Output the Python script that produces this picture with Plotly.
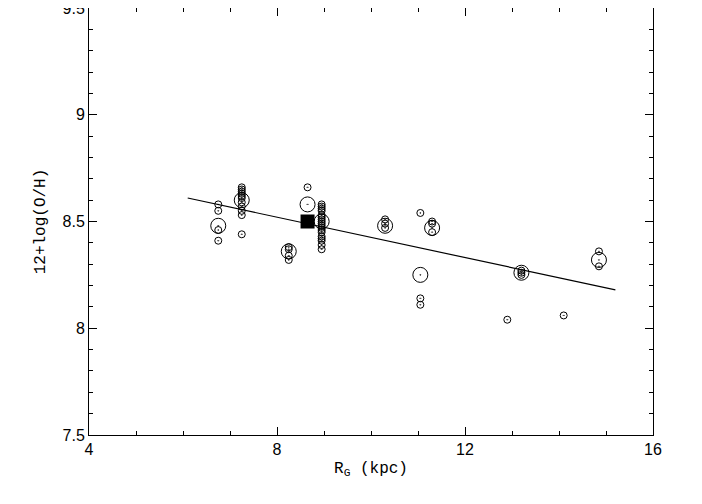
import plotly.graph_objects as go

# small circles
small_x = [6.75, 6.75, 6.75, 6.75,
           7.25, 7.25, 7.25, 7.25, 7.25, 7.25, 7.25, 7.25, 7.25, 7.25, 7.25,
           8.25, 8.25, 8.25, 8.25,
           8.65,
           8.95, 8.95, 8.95, 8.95, 8.95, 8.95, 8.95, 8.95, 8.95, 8.95, 8.95, 8.95, 8.95, 8.95, 8.95, 8.95, 8.95, 8.95,
           10.3, 10.3, 10.3,
           11.05, 11.05, 11.05,
           11.3, 11.3, 11.3,
           12.9, 13.2, 13.2, 13.2, 14.1, 14.85, 14.85]
small_y = [8.58, 8.55, 8.46, 8.41,
           8.66, 8.65, 8.64, 8.63, 8.62, 8.61, 8.59, 8.57, 8.55, 8.53, 8.44,
           8.38, 8.37, 8.34, 8.32,
           8.66,
           8.58, 8.57, 8.56, 8.55, 8.53, 8.52, 8.51, 8.50, 8.49, 8.48, 8.47, 8.46, 8.45, 8.43, 8.42, 8.41, 8.39, 8.37,
           8.51, 8.49, 8.47,
           8.54, 8.14, 8.11,
           8.50, 8.49, 8.45,
           8.04, 8.27, 8.26, 8.25, 8.06, 8.36, 8.29]

# big circles
big_x = [6.75, 7.25, 8.25, 8.65, 8.95, 10.3, 11.05, 11.3, 13.2, 14.85]
big_y = [8.48, 8.60, 8.36, 8.58, 8.50, 8.48, 8.25, 8.47, 8.26, 8.32]

sun_x = [8.65]
sun_y = [8.5]

fit_x = [6.1, 15.2]
fit_y = [8.61, 8.18]

fig = go.Figure()
fig.add_trace(go.Scatter(x=fit_x, y=fit_y, mode="lines",
                         line=dict(color="black", width=1.2)))
fig.add_trace(go.Scatter(x=small_x, y=small_y, mode="markers",
                         marker=dict(symbol="circle-open-dot", size=7, color="black",
                                     line=dict(width=1))))
fig.add_trace(go.Scatter(x=big_x, y=big_y, mode="markers",
                         marker=dict(symbol="circle-open-dot", size=15, color="black",
                                     line=dict(width=1))))
fig.add_trace(go.Scatter(x=sun_x, y=sun_y, mode="markers",
                         marker=dict(symbol="square", size=14, color="black")))

axis = dict(showgrid=False, zeroline=False, mirror="ticks", showline=True,
            linecolor="black", linewidth=1, ticks="inside", ticklen=8,
            tickcolor="black", ticklabeloverflow="allow",
            tickfont=dict(family="Liberation Sans", size=16, color="black"),
            minor=dict(ticks="inside", ticklen=4, tickcolor="black"))
fig.update_xaxes(range=[4, 16], tickvals=[4, 8, 12, 16], minor_dtick=1,
                 title=dict(text="R<sub>G</sub> (kpc)",
                            font=dict(family="Liberation Mono", size=16, color="black"),
                            standoff=4),
                 **axis)
fig.update_yaxes(range=[7.5, 9.5], tickvals=[7.5, 8, 8.5, 9, 9.5],
                 ticktext=["7.5", "8", "8.5", "9", "9.5"], minor_dtick=0.1,
                 title=dict(text="12+log(O/H)",
                            font=dict(family="Liberation Mono", size=16, color="black"),
                            standoff=12),
                 **axis)
fig.update_layout(width=702, height=504, showlegend=False,
                  plot_bgcolor="white", paper_bgcolor="white",
                  margin=dict(l=81, r=57, t=0, b=77, autoexpand=False))
fig.write_html("out.html")
